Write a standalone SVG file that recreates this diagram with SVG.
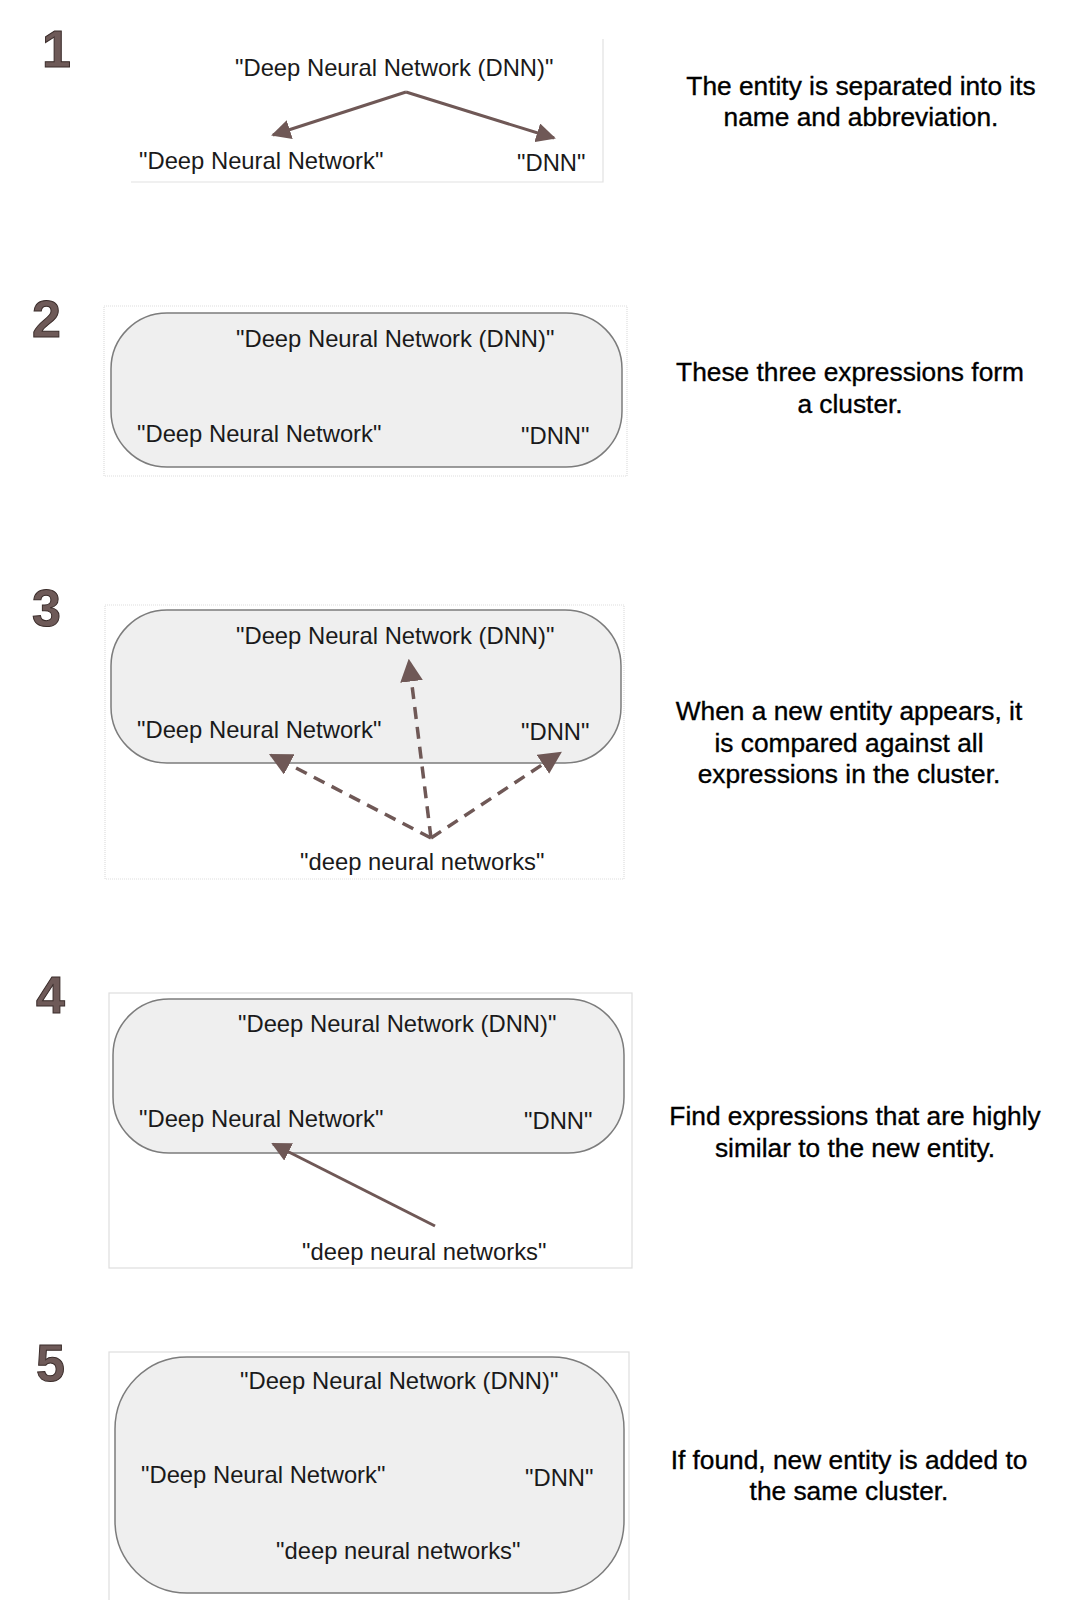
<svg xmlns="http://www.w3.org/2000/svg" width="1071" height="1600" viewBox="0 0 1071 1600">
<defs>
<marker id="ah" viewBox="0 0 10 10" refX="9" refY="5" markerWidth="6.5" markerHeight="6.5" markerUnits="strokeWidth" orient="auto">
<path d="M0,0 L10,5 L0,10 z" fill="#6f5856"/>
</marker>
<style>
.num{font-family:"Liberation Sans",Arial,sans-serif;font-weight:bold;font-size:52px;fill:#6e5a58;stroke:#3a2c2a;stroke-width:1}
.lbl{font-family:"Liberation Sans",Arial,sans-serif;font-size:23.8px;fill:#1a1a1a}
.desc{font-family:"Liberation Sans",Arial,sans-serif;font-size:26.3px;fill:#000;text-anchor:middle;stroke:#000;stroke-width:0.35}
.frame{fill:#fff;stroke:#dedede;stroke-width:1.2}
.cluster{fill:#efefef;stroke:#7c7c7c;stroke-width:1.5}
.arr{stroke:#6f5856;stroke-width:3;fill:none;marker-end:url(#ah)}
.dash{stroke-width:3.5;stroke-dasharray:12 8}
</style>
</defs>
<rect width="1071" height="1600" fill="#fff"/>

<g id="step1">
<text class="num" x="42" y="67">1</text>
<path d="M131,182 H603 V39" fill="none" stroke="#e2e2e2" stroke-width="1.2"/>
<text class="lbl" x="235" y="76">"Deep Neural Network (DNN)"</text>
<text class="lbl" x="139" y="169">"Deep Neural Network"</text>
<text class="lbl" x="517" y="171">"DNN"</text>
<text class="desc" x="861" y="95">The entity is separated into its</text>
<text class="desc" x="861" y="126">name and abbreviation.</text>
</g>

<g id="step2">
<text class="num" x="32" y="337">2</text>
<rect class="frame" x="104" y="306" width="523" height="170" stroke-dasharray="1 1"/>
<rect class="cluster" x="111" y="313" width="511" height="154" rx="56" ry="56"/>
<text class="lbl" x="236" y="347">"Deep Neural Network (DNN)"</text>
<text class="lbl" x="137" y="442">"Deep Neural Network"</text>
<text class="lbl" x="521" y="444">"DNN"</text>
<text class="desc" x="850" y="381">These three expressions form</text>
<text class="desc" x="850" y="413">a cluster.</text>
</g>

<g id="step3">
<text class="num" x="32" y="626">3</text>
<rect class="frame" x="105" y="605" width="519" height="274" stroke-dasharray="1 1"/>
<rect class="cluster" x="111" y="610" width="510" height="153" rx="56" ry="56"/>
<text class="lbl" x="236" y="644">"Deep Neural Network (DNN)"</text>
<text class="lbl" x="137" y="738">"Deep Neural Network"</text>
<text class="lbl" x="521" y="740">"DNN"</text>
<text class="lbl" x="300" y="870">"deep neural networks"</text>
<text class="desc" x="849" y="720">When a new entity appears, it</text>
<text class="desc" x="849" y="752">is compared against all</text>
<text class="desc" x="849" y="783">expressions in the cluster.</text>
</g>

<g id="step4">
<text class="num" x="36" y="1013">4</text>
<rect class="frame" x="109" y="993" width="523" height="275"/>
<rect class="cluster" x="113" y="999" width="511" height="154" rx="56" ry="56"/>
<text class="lbl" x="238" y="1032">"Deep Neural Network (DNN)"</text>
<text class="lbl" x="139" y="1127">"Deep Neural Network"</text>
<text class="lbl" x="524" y="1129">"DNN"</text>
<text class="lbl" x="302" y="1260">"deep neural networks"</text>
<text class="desc" x="855" y="1125">Find expressions that are highly</text>
<text class="desc" x="855" y="1157">similar to the new entity.</text>
</g>

<g id="step5">
<text class="num" x="36" y="1381">5</text>
<rect class="frame" x="109" y="1352" width="520" height="260"/>
<rect class="cluster" x="115" y="1357" width="509" height="236" rx="72" ry="72"/>
<text class="lbl" x="240" y="1389">"Deep Neural Network (DNN)"</text>
<text class="lbl" x="141" y="1483">"Deep Neural Network"</text>
<text class="lbl" x="525" y="1486">"DNN"</text>
<text class="lbl" x="276" y="1559">"deep neural networks"</text>
<text class="desc" x="849" y="1469">If found, new entity is added to</text>
<text class="desc" x="849" y="1500">the same cluster.</text>
</g>

<g id="connectors">
<line class="arr" x1="406" y1="92" x2="273" y2="135"/>
<line class="arr" x1="406" y1="92" x2="554" y2="138"/>
<line class="arr dash" x1="431" y1="838" x2="271" y2="755"/>
<line class="arr dash" x1="431" y1="838" x2="409" y2="661"/>
<line class="arr dash" x1="431" y1="838" x2="560" y2="753"/>
<line class="arr" x1="435" y1="1226" x2="273" y2="1144"/>
</g>
</svg>
